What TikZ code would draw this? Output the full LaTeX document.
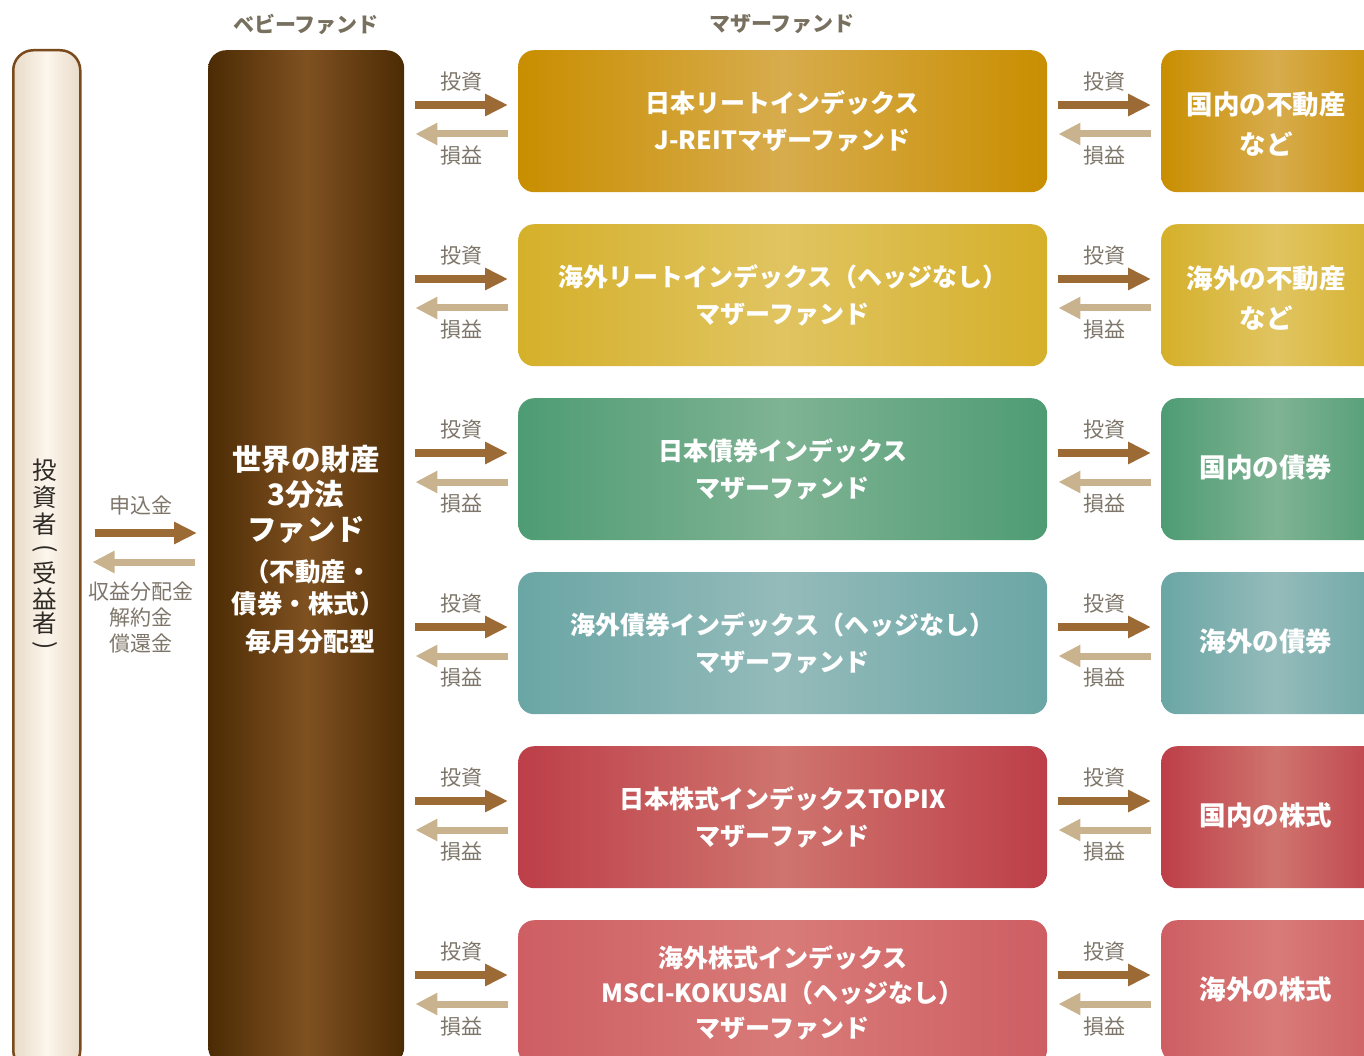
\documentclass[tikz,border=0pt]{standalone}
\usepackage{fontspec}
\setmainfont{Noto Sans CJK JP}
\usetikzlibrary{arrows.meta,calc}
\definecolor{c1e}{HTML}{C98E00}\definecolor{c1m}{HTML}{D7AC4D}
\definecolor{c2e}{HTML}{D5B02A}\definecolor{c2m}{HTML}{E0C461}
\definecolor{c3e}{HTML}{4E9C73}\definecolor{c3m}{HTML}{7FB393}
\definecolor{c4e}{HTML}{6AA6A5}\definecolor{c4m}{HTML}{94BBBA}
\definecolor{c5e}{HTML}{BD3E48}\definecolor{c5m}{HTML}{CF746E}
\definecolor{c6e}{HTML}{CE5E63}\definecolor{c6m}{HTML}{D87B78}
\definecolor{babye}{HTML}{4C2B04}\definecolor{babym}{HTML}{7F5121}
\definecolor{inve}{HTML}{E8DBC9}\definecolor{invm}{HTML}{FDF6EC}
\definecolor{invb}{HTML}{7B4A1C}
\definecolor{fwdc}{HTML}{9B6A35}\definecolor{backc}{HTML}{C9B28E}
\definecolor{graytxt}{HTML}{7E766A}\definecolor{hdrtxt}{HTML}{78705F}
\definecolor{invtxt}{HTML}{2E2A26}
\begin{document}
\begin{tikzpicture}[x=1pt,y=-1pt,
  gr/.style 2 args={left color=#1,right color=#1,middle color=#2},
  mbox/.style={rounded corners=16pt, minimum width=529pt, minimum height=142pt,
    inner sep=0pt, anchor=north west, text=white, align=center,
    font=\fontsize{25}{37}\selectfont\bfseries},
  rbox/.style={rounded corners=16pt, minimum width=230pt, minimum height=142pt,
    inner sep=0pt, anchor=north west},
  rtext/.style={text=white, align=center, inner sep=0pt,
    font=\fontsize{26.5}{40}\selectfont\bfseries},
  btext/.style={text=white, align=center, inner sep=0pt},
  invch/.style={text=invtxt, inner sep=0pt, font=\fontsize{24.5}{26}\selectfont},
  lbl/.style={text=graytxt, inner sep=0pt, font=\fontsize{21}{26}\selectfont},
  hdr/.style={text=hdrtxt, inner sep=0pt, font=\fontsize{21}{26}\selectfont\bfseries},
  fwd/.style={draw=fwdc, line width=7.5pt, -{Triangle[length=23pt,width=21pt]}},
  back/.style={draw=backc, line width=7pt, -{Triangle[length=22pt,width=21pt]}}
]
\useasboundingbox (0,0) rectangle (1364,1056);
\clip (0,0) rectangle (1364,1056);

% headers
\node[hdr] (hb) at (306,24) {ベビーファンド};
\node[hdr] (hm) at (782,24) {マザーファンド};

% investor column
\node[draw=invb, line width=2.5pt, rounded corners=20pt, gr={inve}{invm},
  minimum width=67pt, minimum height=1020pt, anchor=north west, inner sep=0pt] (inv) at (12,49) {};
\node[invch] (iv1) at (45,470) {投};
\node[invch] (iv2) at (45,497) {資};
\node[invch] (iv3) at (45,524) {者};
\node[invch, rotate=-90] (iv4) at (45,549) {(};
\node[invch] (iv5) at (45,573) {受};
\node[invch] (iv6) at (45,599) {益};
\node[invch] (iv7) at (45,623) {者};
\node[invch, rotate=-90] (iv8) at (45,646) {)};

% baby fund
\node[rounded corners=18pt, gr={babye}{babym}, minimum width=196pt, minimum height=1015pt,
  anchor=north west, inner sep=0pt] (baby) at (208,50) {};
\node[btext, font=\fontsize{29.5}{35}\selectfont\bfseries] (bt1) at (306,494) {世界の財産\\3分法\\ファンド};
\node[btext, font=\fontsize{25.5}{32}\selectfont\bfseries] (bt2) at (308,588) {（不動産・\\債券・株式）};
\node[btext, font=\fontsize{26}{32}\selectfont\bfseries] (bt3) at (310,642) {毎月分配型};

% mother funds
\node[mbox, gr={c1e}{c1m}] (m1) at (518,50) {日本リートインデックス\\J-REITマザーファンド};
\node[mbox, gr={c2e}{c2m}] (m2) at (518,224) {海外リートインデックス（ヘッジなし）\\マザーファンド};
\node[mbox, gr={c3e}{c3m}] (m3) at (518,398) {日本債券インデックス\\マザーファンド};
\node[mbox, gr={c4e}{c4m}] (m4) at (518,572) {海外債券インデックス（ヘッジなし）\\マザーファンド};
\node[mbox, gr={c5e}{c5m}] (m5) at (518,746) {日本株式インデックスTOPIX\\マザーファンド};
\node[mbox, gr={c6e}{c6m}, minimum height=145pt, font=\fontsize{25}{35}\selectfont\bfseries] (m6) at (518,920)
  {海外株式インデックス\\MSCI-KOKUSAI（ヘッジなし）\\マザーファンド};

% right boxes
\node[rbox, gr={c1e}{c1m}] (r1) at (1161,50) {};
\node[rbox, gr={c2e}{c2m}] (r2) at (1161,224) {};
\node[rbox, gr={c3e}{c3m}] (r3) at (1161,398) {};
\node[rbox, gr={c4e}{c4m}] (r4) at (1161,572) {};
\node[rbox, gr={c5e}{c5m}] (r5) at (1161,746) {};
\node[rbox, gr={c6e}{c6m}] (r6) at (1161,920) {};
\node[rtext] (rt1) at ($(r1.west)+(105,3)$) {国内の不動産\\など};
\node[rtext] (rt2) at ($(r2.west)+(105,3)$) {海外の不動産\\など};
\node[rtext] (rt3) at ($(r3.west)+(105,-2)$) {国内の債券};
\node[rtext] (rt4) at ($(r4.west)+(105,-2)$) {海外の債券};
\node[rtext] (rt5) at ($(r5.west)+(105,-2)$) {国内の株式};
\node[rtext] (rt6) at ($(r6.west)+(105,-2)$) {海外の株式};

% arrows baby <-> mother, mother <-> assets
\foreach \i in {1,...,6} {
  \draw[fwd] ($(baby.east|-m\i.north)+(11,55)$) -- ($(m\i.north west)+(-10,55)$);
  \draw[back] ($(m\i.north west)+(-10,84)$) -- ($(baby.east|-m\i.north)+(11,84)$);
  \node[lbl] (li\i) at ($(baby.east|-m\i.north)+(57,32)$) {投資};
  \node[lbl] (lr\i) at ($(baby.east|-m\i.north)+(57,106)$) {損益};
  \draw[fwd] ($(m\i.north east)+(11,55)$) -- ($(r\i.north west)+(-10,55)$);
  \draw[back] ($(r\i.north west)+(-10,84)$) -- ($(m\i.north east)+(11,84)$);
  \node[lbl] (ri\i) at ($(m\i.north east)+(57,32)$) {投資};
  \node[lbl] (rr\i) at ($(m\i.north east)+(57,106)$) {損益};
}

% investor <-> baby
\coordinate (ya) at (0,533);
\coordinate (yb) at (0,562);
\draw[fwd] ($(inv.east|-ya)+(13,0)$) -- ($(baby.west|-ya)+(-11,0)$);
\draw[back] ($(baby.west|-yb)+(-13,0)$) -- ($(inv.east|-yb)+(11,0)$);
\node[lbl] (lin) at (141,505) {申込金};
\node[lbl, align=center, font=\fontsize{21}{26}\selectfont] (lout) at (141,618) {収益分配金\\解約金\\償還金};
\end{tikzpicture}
\end{document}
